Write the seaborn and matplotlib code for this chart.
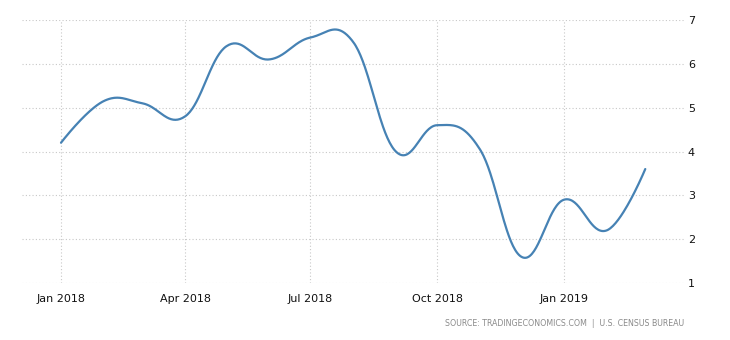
import numpy as np
import pandas as pd
import matplotlib
matplotlib.use("Agg")
import matplotlib.pyplot as plt
import matplotlib.dates as mdates
import seaborn as sns

# ---- data ----
months = ["2018-01-01", "2018-02-01", "2018-03-01", "2018-04-01", "2018-05-01",
          "2018-06-01", "2018-07-01", "2018-08-01", "2018-09-01", "2018-10-01",
          "2018-11-01", "2018-12-01", "2019-01-01", "2019-02-01", "2019-03-01"]
values = [4.2, 5.15, 5.1, 4.8, 6.4, 6.1, 6.6, 6.5, 4.0, 4.6, 4.05, 1.6, 2.9, 2.2, 3.6]
tick_dates = ["2018-01-01", "2018-04-01", "2018-07-01", "2018-10-01", "2019-01-01"]
tick_labels = ["Jan 2018", "Apr 2018", "Jul 2018", "Oct 2018", "Jan 2019"]
y_ticks = [1, 2, 3, 4, 5, 6, 7]
source_text = "SOURCE: TRADINGECONOMICS.COM  |  U.S. CENSUS BUREAU"

# ---- smooth spline rendering (bezier through the data points) ----
xs = mdates.date2num(pd.to_datetime(months))
ys = np.array(values, dtype=float)
n = len(xs)
lcx, lcy, rcx, rcy = xs.copy(), ys.copy(), xs.copy(), ys.copy()
sm, den = 1.5, 2.5
for i in range(1, n - 1):
    px, py = xs[i], ys[i]
    lx, ly = xs[i - 1], ys[i - 1]
    nx, ny = xs[i + 1], ys[i + 1]
    a_x = (sm * px + lx) / den
    a_y = (sm * py + ly) / den
    b_x = (sm * px + nx) / den
    b_y = (sm * py + ny) / den
    corr = ((b_y - a_y) * (b_x - px)) / (b_x - a_x) + py - b_y
    a_y += corr
    b_y += corr
    lcx[i], lcy[i], rcx[i], rcy[i] = a_x, a_y, b_x, b_y

t = np.linspace(0, 1, 40)
cx, cy = [], []
for i in range(1, n):
    p0 = (xs[i - 1], ys[i - 1]); p1 = (rcx[i - 1], rcy[i - 1])
    p2 = (lcx[i], lcy[i]); p3 = (xs[i], ys[i])
    bx = (1 - t) ** 3 * p0[0] + 3 * (1 - t) ** 2 * t * p1[0] + 3 * (1 - t) * t ** 2 * p2[0] + t ** 3 * p3[0]
    by = (1 - t) ** 3 * p0[1] + 3 * (1 - t) ** 2 * t * p1[1] + 3 * (1 - t) * t ** 2 * p2[1] + t ** 3 * p3[1]
    if i > 1:
        bx, by = bx[1:], by[1:]
    cx.extend(bx); cy.extend(by)
curve = pd.DataFrame({"x": cx, "y": cy})

# ---- figure ----
sns.set_theme(style="white")
plt.rcParams["font.family"] = ["DejaVu Sans"]
fig = plt.figure(figsize=(7.3, 3.4), dpi=100)
ax = fig.add_axes([22 / 730, 57 / 340, 663 / 730, 263 / 340])

sns.lineplot(data=curve, x="x", y="y", sort=False, estimator=None,
             color="#4682b4", linewidth=1.6, ax=ax)

# x range: 1.378 px/day, Jan 2018 at x=61
x0 = mdates.date2num(pd.Timestamp("2018-01-01"))
ax.set_xlim(x0 - 39 / 1.378, x0 + 624 / 1.378)
ax.set_ylim(1, 7)

ax.set_xticks(mdates.date2num(pd.to_datetime(tick_dates)))
ax.set_xticklabels(tick_labels)
ax.set_yticks(y_ticks)
ax.set_yticklabels([str(v) for v in y_ticks])
ax.yaxis.tick_right()
ax.tick_params(axis="both", length=0, labelsize=8, colors="#111111")
ax.tick_params(axis="x", pad=8)
ax.tick_params(axis="y", pad=2)
ax.set_xlabel("")
ax.set_ylabel("")

ax.grid(True, which="major", axis="both", color="#c8c8c8", linestyle=(0, (1, 2)), linewidth=0.8)
for s in ax.spines.values():
    s.set_visible(False)

fig.text(684 / 730, 1 - 324 / 340, source_text, ha="right", va="center",
         fontsize=5.7, color="#8a8a8a")

fig.savefig("out.png", dpi=100)
